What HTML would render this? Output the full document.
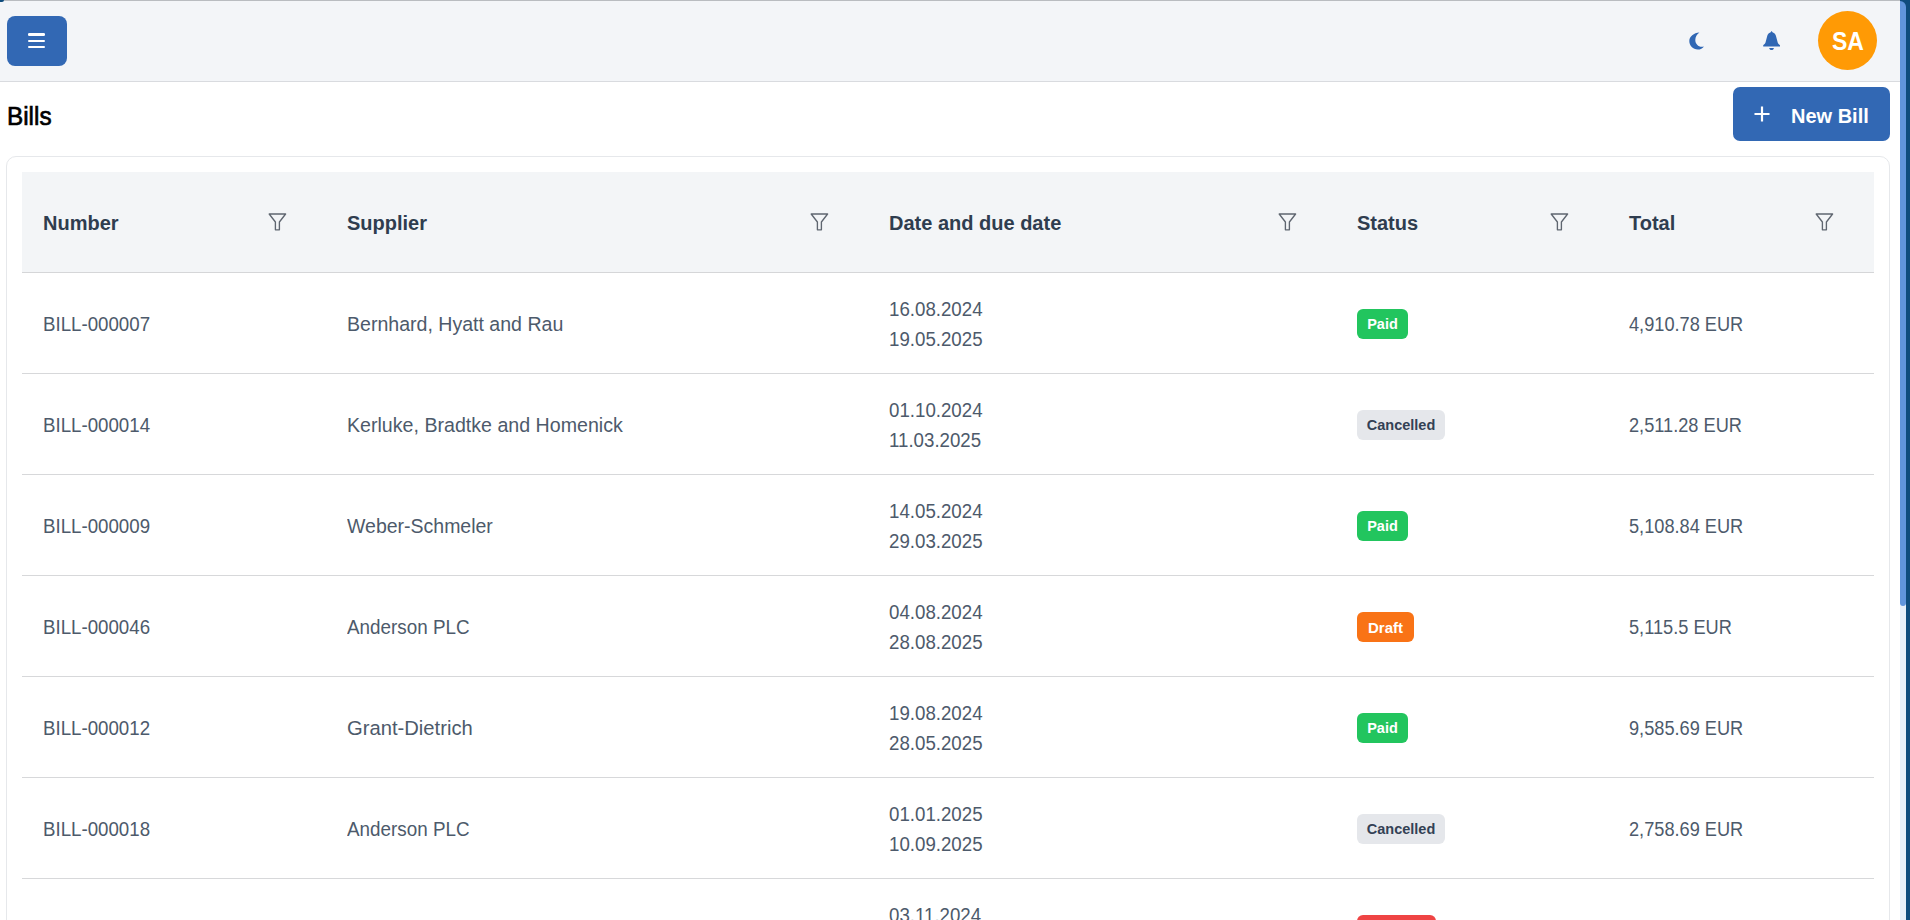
<!DOCTYPE html>
<html><head><meta charset="utf-8">
<style>
*{box-sizing:border-box;margin:0;padding:0}
html,body{width:1910px;height:920px;overflow:hidden;background:#fff;font-family:"Liberation Sans",sans-serif}
.abs{position:absolute}
#topline{left:0;top:0;width:1900px;height:1px;background:#b9bcc0}
#tlc{left:0;top:0;width:4px;height:2px;background:#0f4c7d;border-radius:0 0 4px 0}
#hdr{left:0;top:1px;width:1900px;height:81px;background:#f3f5f8;border-bottom:1px solid #d9dbdf}
#menu{left:7px;top:16px;width:60px;height:50px;background:#3268b4;border-radius:8px}
#menu i{position:absolute;left:21px;width:17.3px;height:2.5px;background:#fff;border-radius:1.25px}
#avatar{left:1817.5px;top:11px;width:59px;height:59px;border-radius:50%;background:#ff9a05}
#avatar span{position:absolute;left:14.8px;top:30.3px;font-weight:bold;font-size:25px;color:#fff;line-height:0;transform:scaleX(0.92);transform-origin:0 0;white-space:nowrap}
#title{left:7px;top:101px;font-size:26.4px;font-weight:normal;-webkit-text-stroke:0.7px #000;color:#000;transform:scaleX(0.92);transform-origin:0 0}
#newbill{left:1733px;top:87px;width:157px;height:54px;background:#3268b4;border-radius:7px;color:#fff;font-weight:bold;font-size:19.5px}
#nbt{position:absolute;left:58px;top:18px;font-size:20px}
#card{left:6px;top:156px;width:1884px;height:800px;border:1px solid #e6e8eb;border-radius:10px;background:#fff}
#thead{left:22px;top:172px;width:1852px;height:101px;background:#f3f5f7;border-bottom:1px solid #d5d6d8}
.th{position:absolute;font-size:20px;font-weight:bold;color:#2f3d4f;top:211.7px;white-space:nowrap}
.flt{position:absolute;top:212px;width:19px;height:19px}
.row{position:absolute;left:22px;width:1852px;height:101px;border-bottom:1px solid #d7d8da}
.td{position:absolute;font-size:19.4px;color:#4d5a6b;white-space:nowrap;line-height:22px;transform:scaleX(0.964);transform-origin:0 0}
.dt{line-height:30px}
.badge{position:absolute;height:30px;border-radius:6px;font-weight:bold;font-size:14.5px;line-height:31px;text-align:center}
.paid{background:#22c55e;color:#fff;width:51px}
.canc{background:#e5e7eb;color:#334155;width:88px}
.draft{background:#f97316;color:#fff;width:57px;font-size:15px}
.over{background:#ef4444;color:#fff;width:79px}
#sb{left:1900px;top:0;width:10px;height:920px;background:#0f4c7d}
#sbtrack{left:1900px;top:600px;width:6px;height:320px;background:#e7eff9}
#sbthumb{left:1900px;top:1px;width:6px;height:605px;background:#6195dc;border-radius:0 6px 3px 3px}
#sbedge{left:1906px;top:0;width:4px;height:920px;background:#0f4c7d}

.sup{font-size:19.7px;transform:none}
.tot{transform:scaleX(0.938)}

</style></head>
<body>
<div class="abs" id="hdr"></div>
<div class="abs" id="topline"></div>
<div class="abs" id="tlc"></div>
<div class="abs" id="menu"><i style="top:17.4px"></i><i style="top:23.6px"></i><i style="top:29.8px"></i></div>
<svg class="abs" style="left:1688px;top:31px" width="18" height="20" viewBox="0 0 18 20"><path d="M11.4 1.4 C5.8 1.8 1.3 5.2 1.3 10 C1.3 14.8 5.0 18.5 9.8 18.5 C12.4 18.5 14.6 17.3 16.0 15.4 C15.4 15.6 14.6 15.7 13.8 15.7 C10.2 15.7 7.3 12.7 7.3 8.9 C7.3 5.9 8.9 3.1 11.4 1.4 Z" fill="#3067b4"/></svg>
<svg class="abs" style="left:1762px;top:30px" width="20" height="22" viewBox="0 0 20 22"><path d="M9.6 1 L10.8 2.4 C12.5 2.9 13.5 4.2 13.9 5.8 L15.7 12.6 C16 13.6 16.9 14.6 18 15.3 L18 16.5 L1.2 16.5 L1.2 15.3 C2.3 14.6 3.2 13.6 3.5 12.6 L5.3 5.8 C5.7 4.2 6.7 2.9 8.4 2.4 Z M7.2 18 L11.9 18 C11.9 19.2 10.8 20.1 9.6 20.1 C8.4 20.1 7.2 19.2 7.2 18 Z" fill="#3067b4"/></svg>
<div class="abs" id="avatar"><span>SA</span></div>
<div class="abs" id="title">Bills</div>
<div class="abs" id="newbill"><svg class="abs" style="left:21px;top:19px" width="16" height="16" viewBox="0 0 16 16"><path d="M8 0.5 V15.5 M0.5 8 H15.5" stroke="#fff" stroke-width="2.2"/></svg><span id="nbt">New Bill</span></div>
<div class="abs" id="card"></div>
<div class="abs" id="thead"></div>
<div class="th" style="left:43px">Number</div>
<div class="th" style="left:347px">Supplier</div>
<div class="th" style="left:889px">Date and due date</div>
<div class="th" style="left:1357px">Status</div>
<div class="th" style="left:1629px">Total</div>
<svg class="flt" style="left:268px" viewBox="0 0 19 19"><path d="M1.2 2 H17.6 L11.4 10 V17.8 H7.4 V10 Z" fill="none" stroke="#5f6670" stroke-width="1.35" stroke-linejoin="round"/></svg>
<svg class="flt" style="left:810px" viewBox="0 0 19 19"><path d="M1.2 2 H17.6 L11.4 10 V17.8 H7.4 V10 Z" fill="none" stroke="#5f6670" stroke-width="1.35" stroke-linejoin="round"/></svg>
<svg class="flt" style="left:1278px" viewBox="0 0 19 19"><path d="M1.2 2 H17.6 L11.4 10 V17.8 H7.4 V10 Z" fill="none" stroke="#5f6670" stroke-width="1.35" stroke-linejoin="round"/></svg>
<svg class="flt" style="left:1550px" viewBox="0 0 19 19"><path d="M1.2 2 H17.6 L11.4 10 V17.8 H7.4 V10 Z" fill="none" stroke="#5f6670" stroke-width="1.35" stroke-linejoin="round"/></svg>
<svg class="flt" style="left:1815px" viewBox="0 0 19 19"><path d="M1.2 2 H17.6 L11.4 10 V17.8 H7.4 V10 Z" fill="none" stroke="#5f6670" stroke-width="1.35" stroke-linejoin="round"/></svg>
<div class="row" style="top:273px"></div>
<div class="td" style="left:43px;top:312.6px">BILL-000007</div>
<div class="td sup" style="left:347px;top:312.6px;transform:scaleX(0.993)">Bernhard, Hyatt and Rau</div>
<div class="td dt" style="left:889px;top:294.3px">16.08.2024<br>19.05.2025</div>
<div class="badge paid" style="left:1357px;top:309px">Paid</div>
<div class="td tot" style="left:1629px;top:312.6px">4,910.78 EUR</div>
<div class="row" style="top:374px"></div>
<div class="td" style="left:43px;top:413.6px">BILL-000014</div>
<div class="td sup" style="left:347px;top:413.6px;transform:scaleX(0.996)">Kerluke, Bradtke and Homenick</div>
<div class="td dt" style="left:889px;top:395.3px">01.10.2024<br>11.03.2025</div>
<div class="badge canc" style="left:1357px;top:410px">Cancelled</div>
<div class="td tot" style="left:1629px;top:413.6px">2,511.28 EUR</div>
<div class="row" style="top:475px"></div>
<div class="td" style="left:43px;top:514.6px">BILL-000009</div>
<div class="td sup" style="left:347px;top:514.6px;transform:scaleX(0.99)">Weber-Schmeler</div>
<div class="td dt" style="left:889px;top:496.3px">14.05.2024<br>29.03.2025</div>
<div class="badge paid" style="left:1357px;top:511px">Paid</div>
<div class="td tot" style="left:1629px;top:514.6px">5,108.84 EUR</div>
<div class="row" style="top:576px"></div>
<div class="td" style="left:43px;top:615.6px">BILL-000046</div>
<div class="td sup" style="left:347px;top:615.6px;transform:scaleX(0.957)">Anderson PLC</div>
<div class="td dt" style="left:889px;top:597.3px">04.08.2024<br>28.08.2025</div>
<div class="badge draft" style="left:1357px;top:612px">Draft</div>
<div class="td tot" style="left:1629px;top:615.6px">5,115.5 EUR</div>
<div class="row" style="top:677px"></div>
<div class="td" style="left:43px;top:716.6px">BILL-000012</div>
<div class="td sup" style="left:347px;top:716.6px;transform:scaleX(1.026)">Grant-Dietrich</div>
<div class="td dt" style="left:889px;top:698.3px">19.08.2024<br>28.05.2025</div>
<div class="badge paid" style="left:1357px;top:713px">Paid</div>
<div class="td tot" style="left:1629px;top:716.6px">9,585.69 EUR</div>
<div class="row" style="top:778px"></div>
<div class="td" style="left:43px;top:817.6px">BILL-000018</div>
<div class="td sup" style="left:347px;top:817.6px;transform:scaleX(0.957)">Anderson PLC</div>
<div class="td dt" style="left:889px;top:799.3px">01.01.2025<br>10.09.2025</div>
<div class="badge canc" style="left:1357px;top:814px">Cancelled</div>
<div class="td tot" style="left:1629px;top:817.6px">2,758.69 EUR</div>
<div class="row" style="top:879px"></div>
<div class="td" style="left:43px;top:918.6px">BILL-000031</div>
<div class="td sup" style="left:347px;top:918.6px;transform:scaleX(1)">Schmitt Group</div>
<div class="td dt" style="left:889px;top:900.3px">03.11.2024<br>15.01.2025</div>
<div class="badge over" style="left:1357px;top:915px">Overdue</div>
<div class="td tot" style="left:1629px;top:918.6px">3,402.17 EUR</div>
<div class="abs" id="sb"></div>
<div class="abs" id="sbtrack"></div>
<div class="abs" id="sbthumb"></div>
<div class="abs" id="sbedge"></div>
</body></html>
